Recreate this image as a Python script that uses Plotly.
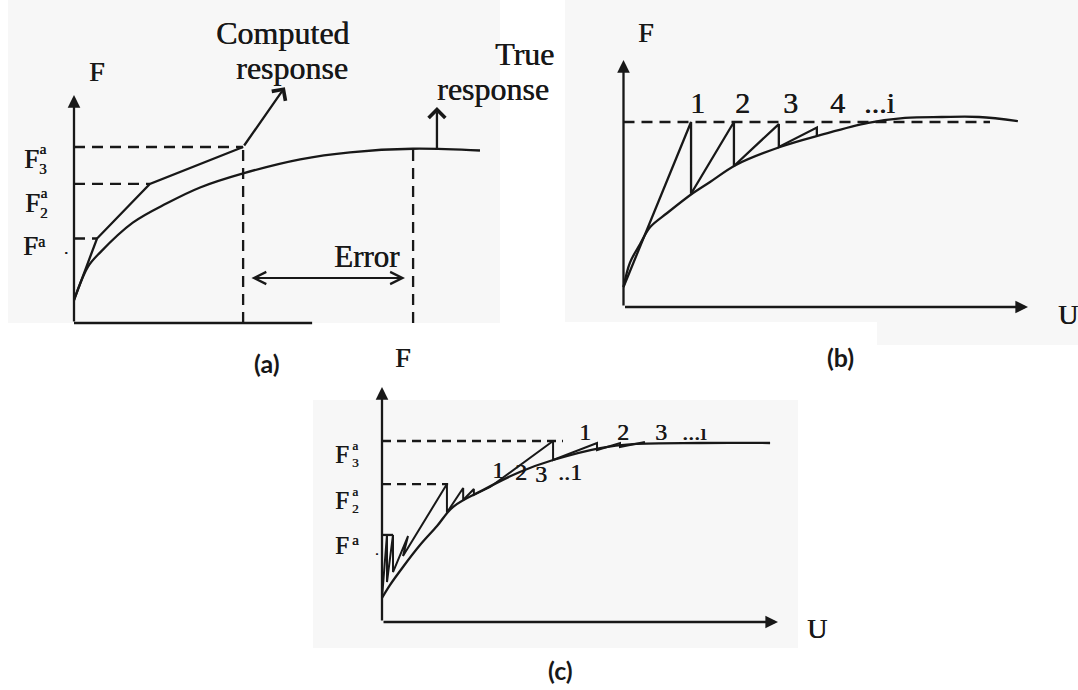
import plotly.graph_objects as go

W, H = 1078, 690
INK = "#181818"
SERIF = "Liberation Serif, Times New Roman, serif"
TAG_FONT = "Lato, Open Sans, sans-serif"
INK_SHADOW = "0.5px 0px 0px #181818"
DASH = "11px,7px"
LW = 2.3

# ---------------- (a) load applied in large steps, no correction ----------------
a_true_u = [0.0, 0.33, 0.61, 1.38, 2.18, 2.96, 3.97, 5.31, 6.48, 7.96, 9.53]
a_true_f = [0.13, 0.32, 0.40, 0.57, 0.68, 0.77, 0.85, 0.93, 0.97, 0.99, 0.98]
a_comp_u = [0.0, 0.54, 1.78, 3.97]
a_comp_f = [0.13, 0.48, 0.79, 1.00]
a_load_levels = [0.48, 0.79, 1.00]
a_u_computed = 3.97
a_u_true = 7.96
a_f_true_end = 0.99

# ---------------- (b) Newton-Raphson iterations at one load level ----------------
b_true_u = [0.0, 0.16, 0.41, 0.66, 1.08, 1.72, 2.14, 2.78, 3.87, 4.88, 6.05, 6.96, 7.87, 8.79, 9.75]
b_true_f = [0.108, 0.24, 0.34, 0.432, 0.508, 0.616, 0.676, 0.768, 0.865, 0.930, 0.995, 1.022,
            1.027, 1.027, 1.005]
b_iter_u = [0.0, 1.67, 1.67, 2.73, 2.73, 3.84, 3.84, 4.78, 4.78]
b_iter_f = [0.108, 1.0, 0.612, 1.0, 0.762, 0.989, 0.865, 0.97, 0.925]
b_load = 1.0
b_load_u_end = 9.06
b_iter_labels = ["1", "2", "3", "4", "...i"]

# ---------------- (c) incremental-iterative scheme ----------------
c_true_u = [0.0, 0.20, 0.53, 0.96, 1.39, 1.79, 2.55, 3.48, 4.32, 5.51, 6.34, 8.03, 9.80]
c_true_f = [0.133, 0.204, 0.304, 0.425, 0.530, 0.635, 0.729, 0.829, 0.895, 0.961, 0.983,
            0.989, 0.989]
c_iter_u = [0.0, 0.126, 0.126, 0.278, 0.278, 0.657, 0.53, 1.64, 1.64, 2.05, 2.05, 2.32, 2.32,
            2.73, 4.32, 4.32, 5.43, 5.43, 6.01, 6.01, 6.64]
c_iter_f = [0.133, 0.481, 0.221, 0.481, 0.276, 0.475, 0.365, 0.762, 0.605, 0.740, 0.674,
            0.735, 0.702, 0.746, 1.0, 0.895, 0.989, 0.950, 0.989, 0.967, 0.994]
c_load_levels = [0.481, 0.762, 1.0]
c_load_u_end = [0.28, 1.67, 4.57]
c_mid_labels = ["1", "2", "3", "..1"]
c_top_labels = ["1", "2", "3", "...ı"]

# pixel origin and pixel-per-unit scale of each panel's U-F axes
PANELS = {
    "a": dict(sfx="", x0=74.0, y0=323.0, sx=42.6, sy=176.0),
    "b": dict(sfx="2", x0=623.5, y0=307.0, sx=40.45, sy=185.0),
    "c": dict(sfx="3", x0=382.0, y0=622.0, sx=39.6, sy=181.0),
}

fig = go.Figure()

layout_axes = {}
for p in PANELS.values():
    s = p["sfx"]
    layout_axes["xaxis" + s] = dict(domain=[0, 1], anchor="y" + s, visible=False, fixedrange=True,
                                    range=[-p["x0"] / p["sx"], (W - p["x0"]) / p["sx"]])
    layout_axes["yaxis" + s] = dict(domain=[0, 1], anchor="x" + s, visible=False, fixedrange=True,
                                    range=[-(H - p["y0"]) / p["sy"], p["y0"] / p["sy"]])


def refs(pan):
    s = PANELS[pan]["sfx"]
    return "x" + s, "y" + s


def curve(pan, u, f, shape="linear", dash=None, width=LW):
    xr, yr = refs(pan)
    fig.add_trace(go.Scatter(x=u, y=f, mode="lines", xaxis=xr, yaxis=yr,
                             line=dict(color=INK, width=width, shape=shape, dash=dash),
                             hoverinfo="skip", showlegend=False))


def arrow(pan, tail, head, style=2, size=1.1, width=LW, both=False):
    xr, yr = refs(pan)
    fig.add_annotation(x=head[0], y=head[1], ax=tail[0], ay=tail[1],
                       xref=xr, yref=yr, axref=xr, ayref=yr, text="", showarrow=True,
                       arrowhead=style, arrowsize=size, arrowwidth=width, arrowcolor=INK,
                       arrowside="end+start" if both else "end",
                       startarrowhead=style, startarrowsize=size)


def label(px, py, txt, size, family=SERIF, bold=False):
    if bold:
        txt = "<b>" + txt + "</b>"
    fig.add_annotation(x=px / W, y=1 - py / H, xref="paper", yref="paper", text=txt,
                       showarrow=False, xanchor="center", yanchor="middle",
                       font=dict(family=family, size=size, color=INK,
                                 shadow="none" if bold else INK_SHADOW))


def data_label(pan, u, f, txt, size):
    xr, yr = refs(pan)
    fig.add_annotation(x=u, y=f, xref=xr, yref=yr, text=txt, showarrow=False,
                       xanchor="center", yanchor="middle",
                       font=dict(family=SERIF, size=size, color=INK, shadow=INK_SHADOW))


def load_label(px, py, sub, big, small, dx, up):
    """F with superscript 'a' and, when given, the step index stacked below it."""
    label(px, py, "F", big)
    if sub:
        label(px + dx, py, "a<br>" + sub, small)
    else:
        label(px + dx, py - up, "a", small)


# scanned-page tint behind each panel
for x0, y0, x1, y1 in [(8, 0, 500, 323), (565, 0, 1078, 322), (877, 322, 1078, 345), (313, 400, 798, 648)]:
    fig.add_shape(type="rect", xref="paper", yref="paper", x0=x0 / W, x1=x1 / W,
                  y0=1 - y1 / H, y1=1 - y0 / H, fillcolor="#f7f7f7", line_width=0, layer="below")

# ---------- panel (a) ----------
arrow("a", (0, 0), (0, 1.295))
curve("a", [0, 5.59], [0, 0])
curve("a", a_true_u, a_true_f, shape="spline")
curve("a", a_comp_u, a_comp_f)
for lvl, u_end in zip(a_load_levels, a_comp_u[1:]):
    curve("a", [0, u_end], [lvl, lvl], dash=DASH)
curve("a", [a_u_computed, a_u_computed], [0, a_comp_f[-1]], dash=DASH)
curve("a", [a_u_true, a_u_true], [0, a_f_true_end], dash=DASH)
arrow("a", (4.13, 0.256), (7.77, 0.256), style=5, size=1.2, width=2.0, both=True)
arrow("a", (a_u_computed, a_comp_f[-1]), (4.95, 1.34), style=4, size=1.4)
arrow("a", (8.52, 0.985), (8.52, 1.227), style=4, size=1.4)

label(97, 71, "F", 28)
label(282, 33, "Computed", 32)
label(292, 68, "response", 32)
label(524, 54, "True", 32)
label(493, 89, "response", 32)
label(367, 256, "Error", 31)
load_label(31, 159, "3", 27, 15, 12, 8)
load_label(32, 203, "2", 27, 15, 12, 8)
load_label(30, 246, "", 27, 16, 11, 5)
label(66, 248, ".", 16)
label(267, 363, "(a)", 25, family=TAG_FONT, bold=True)

# ---------- panel (b) ----------
arrow("b", (0, 0), (0, 1.335))
arrow("b", (0, 0), (10.0, 0))
curve("b", [0, b_load_u_end], [b_load, b_load], dash=DASH)
curve("b", b_true_u, b_true_f, shape="spline")
curve("b", b_iter_u, b_iter_f)
for txt, u in zip(b_iter_labels, [1.82, 2.95, 4.14, 5.30, 6.34]):
    data_label("b", u, 1.103, txt, 30)
label(646, 33, "F", 28)
label(1068, 314, "U", 28)
label(840, 357, "(b)", 25, family=TAG_FONT, bold=True)

# ---------- panel (c) ----------
arrow("c", (0, 0), (0, 1.298))
arrow("c", (0, 0), (10.0, 0))
for lvl, u_end in zip(c_load_levels, c_load_u_end):
    curve("c", [0, u_end], [lvl, lvl], dash="9px,6px" if lvl > 0.5 else None)
curve("c", c_true_u, c_true_f, shape="spline")
curve("c", c_iter_u, c_iter_f, width=2.0)
for txt, u, f in zip(c_mid_labels, [2.93, 3.52, 4.02, 4.75], [0.84, 0.83, 0.82, 0.83]):
    data_label("c", u, f, txt, 24)
for txt, u in zip(c_top_labels, [5.13, 6.09, 7.05, 7.90]):
    data_label("c", u, 1.05, txt, 24)
label(403, 357, "F", 28)
label(817, 628, "U", 28)
load_label(342, 454, "3", 25, 13, 13, 10)
load_label(342, 500, "2", 25, 13, 13, 10)
load_label(342, 545, "", 25, 15, 13, 5)
label(377, 550, ".", 14)
label(560, 670, "(c)", 25, family=TAG_FONT, bold=True)

fig.update_layout(
    width=W, height=H, margin=dict(l=0, r=0, t=0, b=0, pad=0),
    paper_bgcolor="white", plot_bgcolor="rgba(0,0,0,0)",
    showlegend=False, **layout_axes,
)

fig.write_html("out.html", config={"displayModeBar": False})
